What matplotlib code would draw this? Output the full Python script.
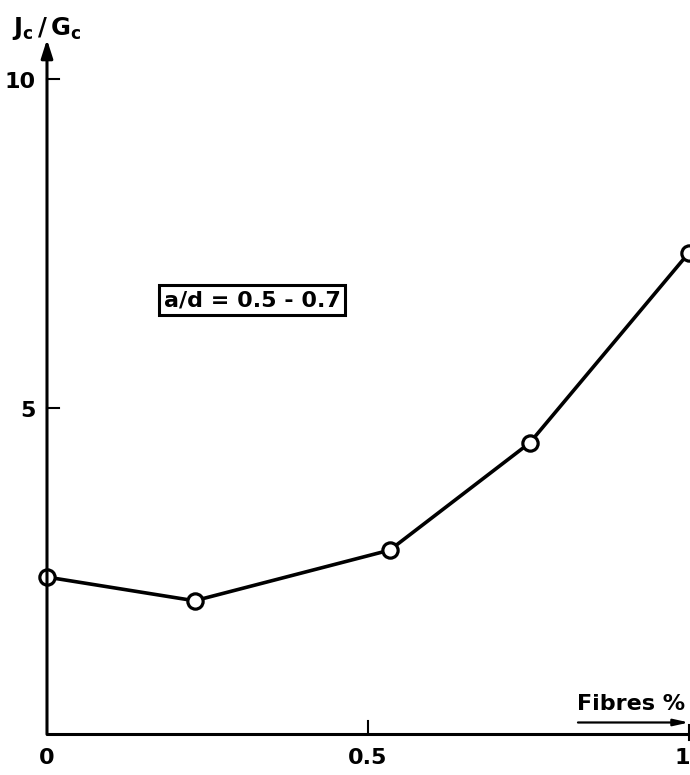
import matplotlib.pyplot as plt

# values
fibres = [0.0, 0.23, 0.534, 0.752, 1.0]
jc_gc = [2.43, 2.07, 2.84, 4.47, 7.36]
x_ticks = [0, 0.5, 1]
x_tick_labels = ['0', '0.5', '1']
y_ticks = [5, 10]
y_tick_labels = ['5', '10']

plt.rcParams['mathtext.fontset'] = 'dejavusans'
font = dict(family='DejaVu Sans', weight='bold', fontsize=16)

fig = plt.figure(figsize=(6.9, 7.75), dpi=100)
ax = fig.add_axes([0, 0, 1, 1])
ax.set_xlim(-0.0732, 1.0016)
ax.set_ylim(-0.578, 11.2)
ax.axis('off')

# axes drawn by hand, with arrows
ax.annotate('', xy=(0, 10.6), xytext=(0, 0.04),
            arrowprops=dict(arrowstyle='-|>,head_length=1.1,head_width=0.35',
                            lw=2.2, color='black', shrinkA=0, shrinkB=0))
ax.plot([-0.0017, 1.0], [0.04, 0.04], color='black', lw=2.2, solid_capstyle='butt')

for t, lab in zip(y_ticks, y_tick_labels):
    ax.plot([0, 0.019], [t, t], color='black', lw=1.5)
    ax.text(-0.018, t - 0.05, lab, ha='right', va='center', **font)
for t, lab in zip(x_ticks, x_tick_labels):
    if 0 < t < 1:
        ax.plot([t, t], [0.04, 0.24], color='black', lw=1.5)
    if t == 1:
        ax.plot([t, t], [-0.05, 0.18], color='black', lw=1.5)
    ha = 'right' if t == 1 else 'center'
    ax.text(t + (0.0015 if t == 1 else 0), -0.32, lab, ha=ha, va='center', **font)

ax.plot(fibres, jc_gc, color='black', lw=2.6, marker='o', markersize=11,
        markerfacecolor='white', markeredgecolor='black', markeredgewidth=2.3,
        clip_on=True)

ax.text(-0.073 + 12 / 642, 10.76, r'$\mathbf{J_c\,/\,G_c}$', ha='left', va='center',
        fontsize=17.5)

ax.text((252 - 47) / 642, 6.64, 'a/d = 0.5 - 0.7', ha='center', va='center',
        bbox=dict(boxstyle='square,pad=0.22', facecolor='white', edgecolor='black', lw=2.2),
        **font)

ax.text((631 - 47) / 642, 0.5, 'Fibres %', ha='center', va='center', **font)
ax.annotate('', xy=(1.0, 0.22), xytext=((578 - 47) / 642, 0.22),
            arrowprops=dict(arrowstyle='-|>,head_length=0.9,head_width=0.2',
                            lw=1.6, color='black', shrinkA=0, shrinkB=0))

fig.savefig('out.png', dpi=100)
